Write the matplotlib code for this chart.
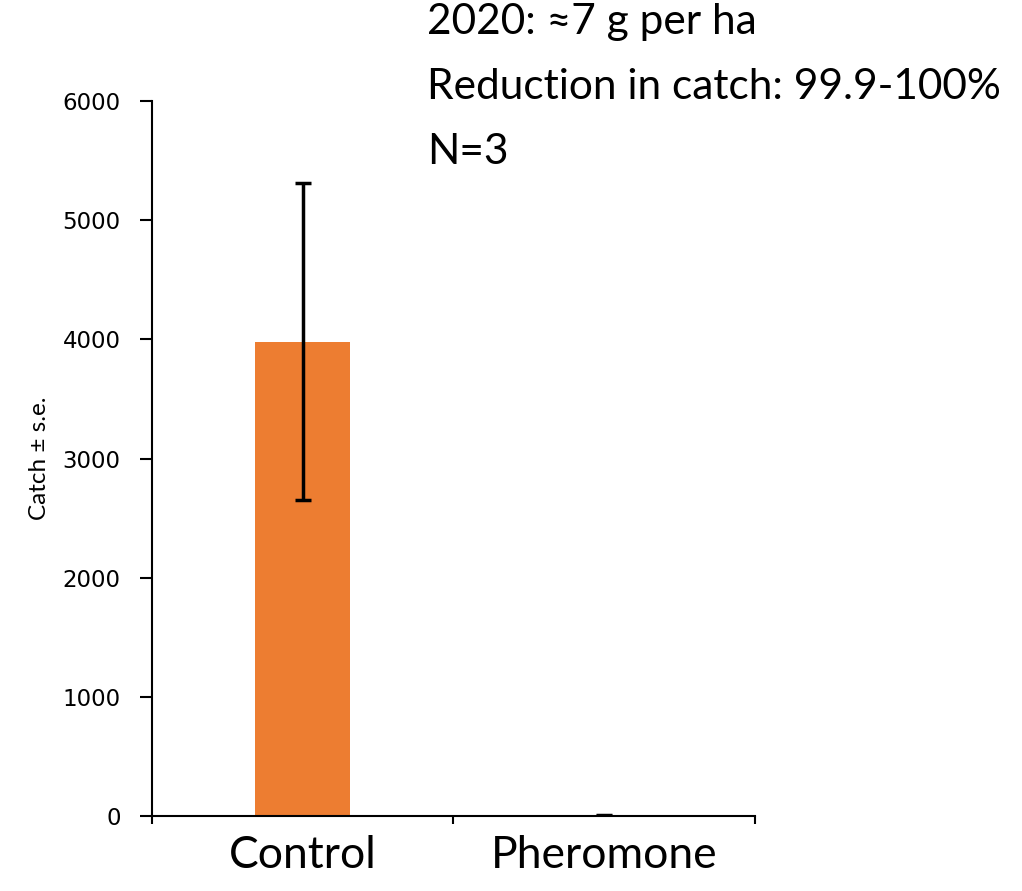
import matplotlib.pyplot as plt
import numpy as np

# Fangst per behandling (medel ± s.e.)
categories = ['Control', 'Pheromone']
catch = [3980, 2]
se = [1330, 3]

fig = plt.figure(figsize=(10.22, 8.91), dpi=100)
ax = fig.add_axes([0.1487, 0.0842, 0.5900, 0.8024])

x = np.arange(len(categories))
ax.bar(x, catch, width=0.315, color='#ED7D31')
ax.errorbar(x, catch, yerr=se, fmt='none', ecolor='black', elinewidth=2.5,
            capsize=6, capthick=2.5)

ax.set_xlim(-0.5, 1.5)
ax.set_ylim(0, 6000)
ax.set_yticks(np.arange(0, 6001, 1000))
ax.set_xticks(x)
ax.set_xticklabels(categories, fontsize=32, family='Lato')
ax.set_xticks([-0.5, 0.5, 1.5], minor=True)
ax.tick_params(axis='x', which='major', length=0, pad=14)
ax.tick_params(axis='x', which='minor', length=6, width=1.5, direction='out')
ax.tick_params(axis='y', length=8.5, width=1.5, labelsize=16.5, pad=14)

for side in ['top', 'right']:
    ax.spines[side].set_visible(False)
for side in ['left', 'bottom']:
    ax.spines[side].set_linewidth(1.5)

ax.set_ylabel('Catch ± s.e.', fontsize=17.5, family='Lato', labelpad=9)

# Anteckningar ovanför diagrammet
notes = ['2020: ≈7 g per ha', 'Reduction in catch: 99.9-100%', 'N=3']
for i, t in enumerate(notes):
    fig.text(0.418, 1 - (22 + 65 * i) / 891, t, fontsize=30.5, family='Lato',
             va='center', ha='left')

fig.savefig('out.png', dpi=100)
